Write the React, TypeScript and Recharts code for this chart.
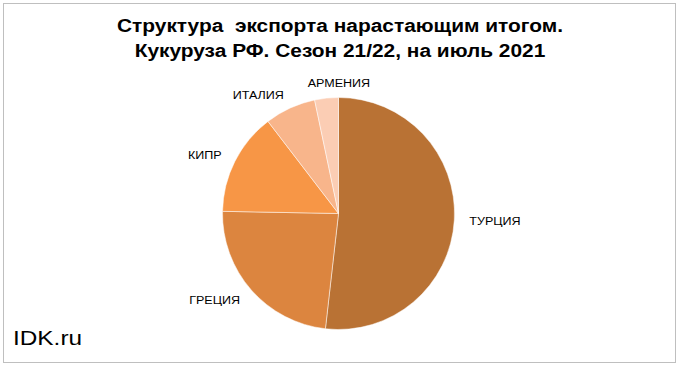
import { PieChart, Pie, Cell } from "recharts";

const countries = ["ТУРЦИЯ", "ГРЕЦИЯ", "КИПР", "ИТАЛИЯ", "АРМЕНИЯ"];
const shares = [51.8, 23.5, 14.3, 7.1, 3.3];
const colors = ["#B97234", "#DC853F", "#F79646", "#F8B58B", "#FBCDB4"];

const data = countries.map((name, i) => ({ name, value: shares[i] }));

const RAD = Math.PI / 180;
const FONT = "Liberation Sans, Arial, sans-serif";

const renderLabel = ({ cx, cy, midAngle, outerRadius, name }: any) => {
  const r = outerRadius + 15;
  const cos = Math.cos(-midAngle * RAD);
  const sin = Math.sin(-midAngle * RAD);
  let x = cx + r * cos;
  const y = cy + r * sin;
  const anchor = cos > 0.3 ? "start" : cos < -0.3 ? "end" : "middle";
  if (anchor === "middle") x += 14;
  return (
    <text transform={`translate(${x},${y}) scale(1.14,1)`} x={0} y={0} textAnchor={anchor}
      dominantBaseline="central" fontFamily={FONT} fontSize={11} fill="#000">
      {name}
    </text>
  );
};

export default function App() {
  return (
    <div style={{ position: "absolute", left: 0, top: 0, width: 680, height: 367, background: "#fff" }}>
      <div style={{ position: "absolute", left: 3, top: 3, width: 673, height: 360, border: "1px solid #bfbfbf", boxSizing: "border-box" }} />
      <div style={{ position: "absolute", left: 0, top: 14, width: 680, textAlign: "center",
        fontFamily: FONT, fontWeight: "bold", fontSize: 18, lineHeight: "25px", color: "#000",
        transform: "scaleX(1.16)", transformOrigin: "340px 0" }}>
        Структура&nbsp; экспорта нарастающим итогом.<br />Кукуруза РФ. Сезон 21/22, на июль 2021
      </div>
      <PieChart width={680} height={367} style={{ position: "absolute", left: 0, top: 0 }}>
        <Pie data={data} dataKey="value" nameKey="name" cx={333.5} cy={208.5} outerRadius={116}
          startAngle={90} endAngle={-270} stroke="#ffffff" strokeWidth={0.5}
          label={renderLabel} labelLine={false} isAnimationActive={false}>
          {data.map((d, i) => <Cell key={d.name} fill={colors[i]} />)}
        </Pie>
      </PieChart>
      <div style={{ position: "absolute", left: 13, top: 326, fontFamily: FONT,
        fontSize: 21, color: "#000", transform: "scaleX(1.16)", transformOrigin: "0 0" }}>IDK.ru</div>
    </div>
  );
}
